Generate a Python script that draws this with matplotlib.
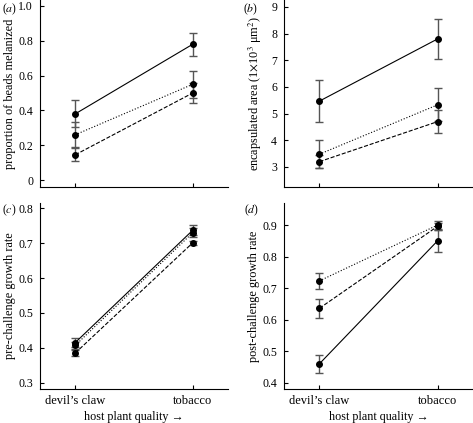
import matplotlib
matplotlib.use("Agg")
import matplotlib.pyplot as plt

plt.rcParams["font.family"] = ["Liberation Serif", "DejaVu Serif"]
plt.rcParams["mathtext.fontset"] = "stix"

# host plants (x categories)
hosts = ["devil\u2019s claw", "tobacco"]
xpos = [0, 1]

# (a) proportion of beads melanized
a_solid = [0.38, 0.78]
a_solid_err = [0.077, 0.065]
a_dotted = [0.26, 0.55]
a_dotted_err = [0.072, 0.076]
a_dashed = [0.145, 0.50]
a_dashed_err = [0.038, 0.058]

# (b) encapsulated area
b_solid = [5.47, 7.8]
b_solid_err = [0.8, 0.74]
b_dotted = [3.48, 5.33]
b_dotted_err = [0.52, 0.62]
b_dashed = [3.2, 4.7]
b_dashed_err = [0.25, 0.43]

# (c) pre-challenge growth rate
c_solid = [0.415, 0.737]
c_solid_err = [0.012, 0.014]
c_dotted = [0.407, 0.73]
c_dotted_err = [0.01, 0.012]
c_dashed = [0.385, 0.701]
c_dashed_err = [0.009, 0.006]

# (d) post-challenge growth rate
d_solid = [0.46, 0.85]
d_solid_err = [0.028, 0.034]
d_dotted = [0.723, 0.90]
d_dotted_err = [0.026, 0.014]
d_dashed = [0.636, 0.896]
d_dashed_err = [0.03, 0.012]

fig = plt.figure(figsize=(4.73, 4.23), dpi=100)
W, H = 473, 423


def make_ax(x0, x1, ytop, ybot):
    return fig.add_axes([x0 / W, 1 - ybot / H, (x1 - x0) / W, (ybot - ytop) / H])


ax_a = make_ax(40, 228, 0, 187)
ax_b = make_ax(284, 473, 0, 187)
ax_c = make_ax(40, 228, 203, 389)
ax_d = make_ax(284, 473, 203, 389)

panels = [
    (ax_a, [(a_solid, a_solid_err, "-"), (a_dotted, a_dotted_err, ":"), (a_dashed, a_dashed_err, "--")],
     (-0.04, 1.034), [0, 0.2, 0.4, 0.6, 0.8, 1.0], ["0", "0.2", "0.4", "0.6", "0.8", "1.0"],
     "proportion of beads melanized", -0.128),
    (ax_b, [(b_solid, b_solid_err, "-"), (b_dotted, b_dotted_err, ":"), (b_dashed, b_dashed_err, "--")],
     (2.25, 9.26), [3, 4, 5, 6, 7, 8, 9], None,
     r"encapsulated area (1$\times$10$^3$ $\mathregular{\mu}$m$^2$)", -0.106),
    (ax_c, [(c_solid, c_solid_err, "-"), (c_dotted, c_dotted_err, ":"), (c_dashed, c_dashed_err, "--")],
     (0.282, 0.815), [0.3, 0.4, 0.5, 0.6, 0.7, 0.8], None,
     "pre-challenge growth rate", -0.128),
    (ax_d, [(d_solid, d_solid_err, "-"), (d_dotted, d_dotted_err, ":"), (d_dashed, d_dashed_err, "--")],
     (0.38, 0.97), [0.4, 0.5, 0.6, 0.7, 0.8, 0.9], None,
     "post-challenge growth rate", -0.127),
]

for ax, series, ylim, yticks, ylabels, ylab, labx in panels:
    for vals, errs, ls in series:
        ax.errorbar(xpos, vals, yerr=errs, fmt="none", ecolor="#555555",
                    elinewidth=1.0, capsize=3, capthick=1.0, zorder=2)
        ax.plot(xpos, vals, color="black", linestyle=ls, linewidth=0.8,
                marker="o", markersize=4, zorder=3)
    ax.set_xlim(-0.3, 1.3)
    ax.set_ylim(*ylim)
    ax.set_yticks(yticks)
    if ylabels:
        ax.set_yticklabels(ylabels)
    ax.set_ylabel(ylab, fontsize=8.8)
    ax.yaxis.set_label_coords(labx, 0.5)
    ax.set_xticks(xpos)
    for s in ["top", "right"]:
        ax.spines[s].set_visible(False)
    for s in ["left", "bottom"]:
        ax.spines[s].set_linewidth(0.8)
    ax.tick_params(direction="in", length=3, width=0.8)
    ax.tick_params(axis="y", labelsize=8.5, pad=5)
    ax.tick_params(axis="x", labelsize=9, pad=4)
    ax.set_facecolor("none")

for ax in (ax_a, ax_b):
    ax.set_xticklabels([])
for ax in (ax_c, ax_d):
    ax.set_xticklabels(hosts)
    ax.set_xlabel("host plant quality \u2192", fontsize=8.7, labelpad=3)

# panel letters
for x, y, letter in [(2, 2, "a"), (243, 2, "b"), (2, 203, "c"), (244, 203, "d")]:
    fig.text(x / W, 1 - y / H, "(" + r"$\it{" + letter + "}$" + ")", fontsize=8.5, va="top")

fig.savefig("out.png", dpi=100)
